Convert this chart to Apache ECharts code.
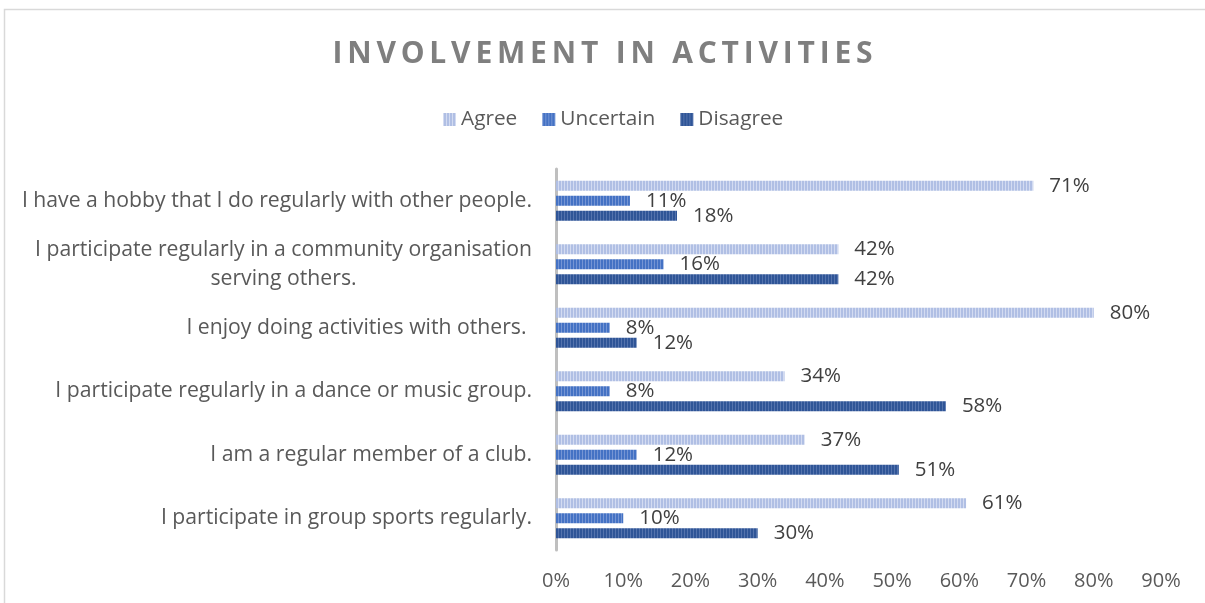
<!DOCTYPE html>
<html>
<head>
<meta charset="utf-8">
<script src="https://cdn.jsdelivr.net/npm/echarts@6/dist/echarts.min.js"></script>
<style>
  html, body { margin: 0; padding: 0; background: #ffffff; }
  #chart { width: 1205px; height: 603px; }
</style>
</head>
<body>
<div id="chart"></div>
<script>
// Survey statements, top to bottom
const categories = [
  'I have a hobby that I do regularly with other people.',
  'I participate regularly in a community organisation\nserving others.',
  'I enjoy doing activities with others. ',
  'I participate regularly in a dance or music group.',
  'I am a regular member of a club.',
  'I participate in group sports regularly.'
];
const seriesNames = ['Agree', 'Uncertain', 'Disagree'];
// Percent of respondents
const agree = [71, 42, 80, 34, 37, 61];
const uncertain = [11, 16, 8, 8, 12, 10];
const disagree = [18, 42, 12, 58, 51, 30];
const xTicks = [0, 10, 20, 30, 40, 50, 60, 70, 80, 90];
const titleText = 'INVOLVEMENT IN ACTIVITIES';

// Vertical-stripe fill for the bars
function stripes(base, line) {
  const c = document.createElement('canvas');
  c.width = 3; c.height = 8;
  const g = c.getContext('2d');
  g.fillStyle = base; g.fillRect(0, 0, 3, 8);
  g.fillStyle = line; g.fillRect(0, 0, 1, 8);
  return { image: c, repeat: 'repeat' };
}
const fills = [
  stripes('#b0bfe4', '#d3dbf1'),
  stripes('#4472c4', '#7595d4'),
  stripes('#2f5597', '#5473ad')
];
const values = [agree, uncertain, disagree];

const font = '"Open Sans", Lato, sans-serif';
// Tracked-out title: each letter is its own rich token with side padding
const spaced = titleText.split('').map(ch => '{t|' + ch + '}').join('');

const chart = echarts.init(document.getElementById('chart'));
chart.setOption({
  backgroundColor: '#ffffff',
  animation: false,
  graphic: [{
    type: 'rect',
    shape: { x: 4.5, y: 9.5, width: 1220, height: 620 },
    style: { fill: 'none', stroke: '#d9d9d9', lineWidth: 1.5 },
    silent: true
  }],
  title: {
    text: spaced,
    left: 'center',
    top: 34,
    textStyle: {
      rich: {
        t: {
          fontFamily: font,
          fontWeight: 'bold',
          fontSize: 30,
          color: '#7f7f7f',
          padding: [0, 2.4, 0, 2.4]
        }
      }
    }
  },
  legend: {
    data: seriesNames,
    top: 104,
    left: 438,
    itemWidth: 13,
    itemHeight: 13,
    itemGap: 25,
    icon: 'rect',
    textStyle: { fontFamily: font, fontSize: 20.8, color: '#595959' }
  },
  grid: { left: 556, right: 44, top: 169, bottom: 53, containLabel: false },
  xAxis: {
    type: 'value',
    min: xTicks[0],
    max: xTicks[xTicks.length - 1],
    interval: 10,
    splitLine: { show: false },
    axisLine: { show: false },
    axisTick: { show: false },
    axisLabel: {
      formatter: v => v + '%',
      margin: 21,
      fontFamily: font,
      fontSize: 20,
      color: '#595959'
    }
  },
  yAxis: {
    type: 'category',
    data: categories,
    inverse: true,
    axisLine: { show: true, lineStyle: { color: '#bfbfbf', width: 3 } },
    axisTick: { show: false },
    axisLabel: {
      margin: 24,
      fontFamily: font,
      fontSize: 21.2,
      color: '#595959',
      lineHeight: 29,
      formatter: v => v.split('\n').map(s => '{c|' + s + '}').join('\n'),
      rich: { c: { align: 'center', fontFamily: font, fontSize: 21.2, color: '#595959', lineHeight: 29 } }
    }
  },
  series: seriesNames.map((name, i) => ({
    name: name,
    type: 'bar',
    data: values[i],
    barWidth: 10,
    barGap: '50%',
    itemStyle: { color: fills[i] },
    label: {
      show: true,
      position: 'right',
      distance: 16,
      formatter: p => p.value + '%',
      fontFamily: font,
      fontSize: 20.5,
      color: '#404040'
    }
  }))
});
</script>
</body>
</html>
